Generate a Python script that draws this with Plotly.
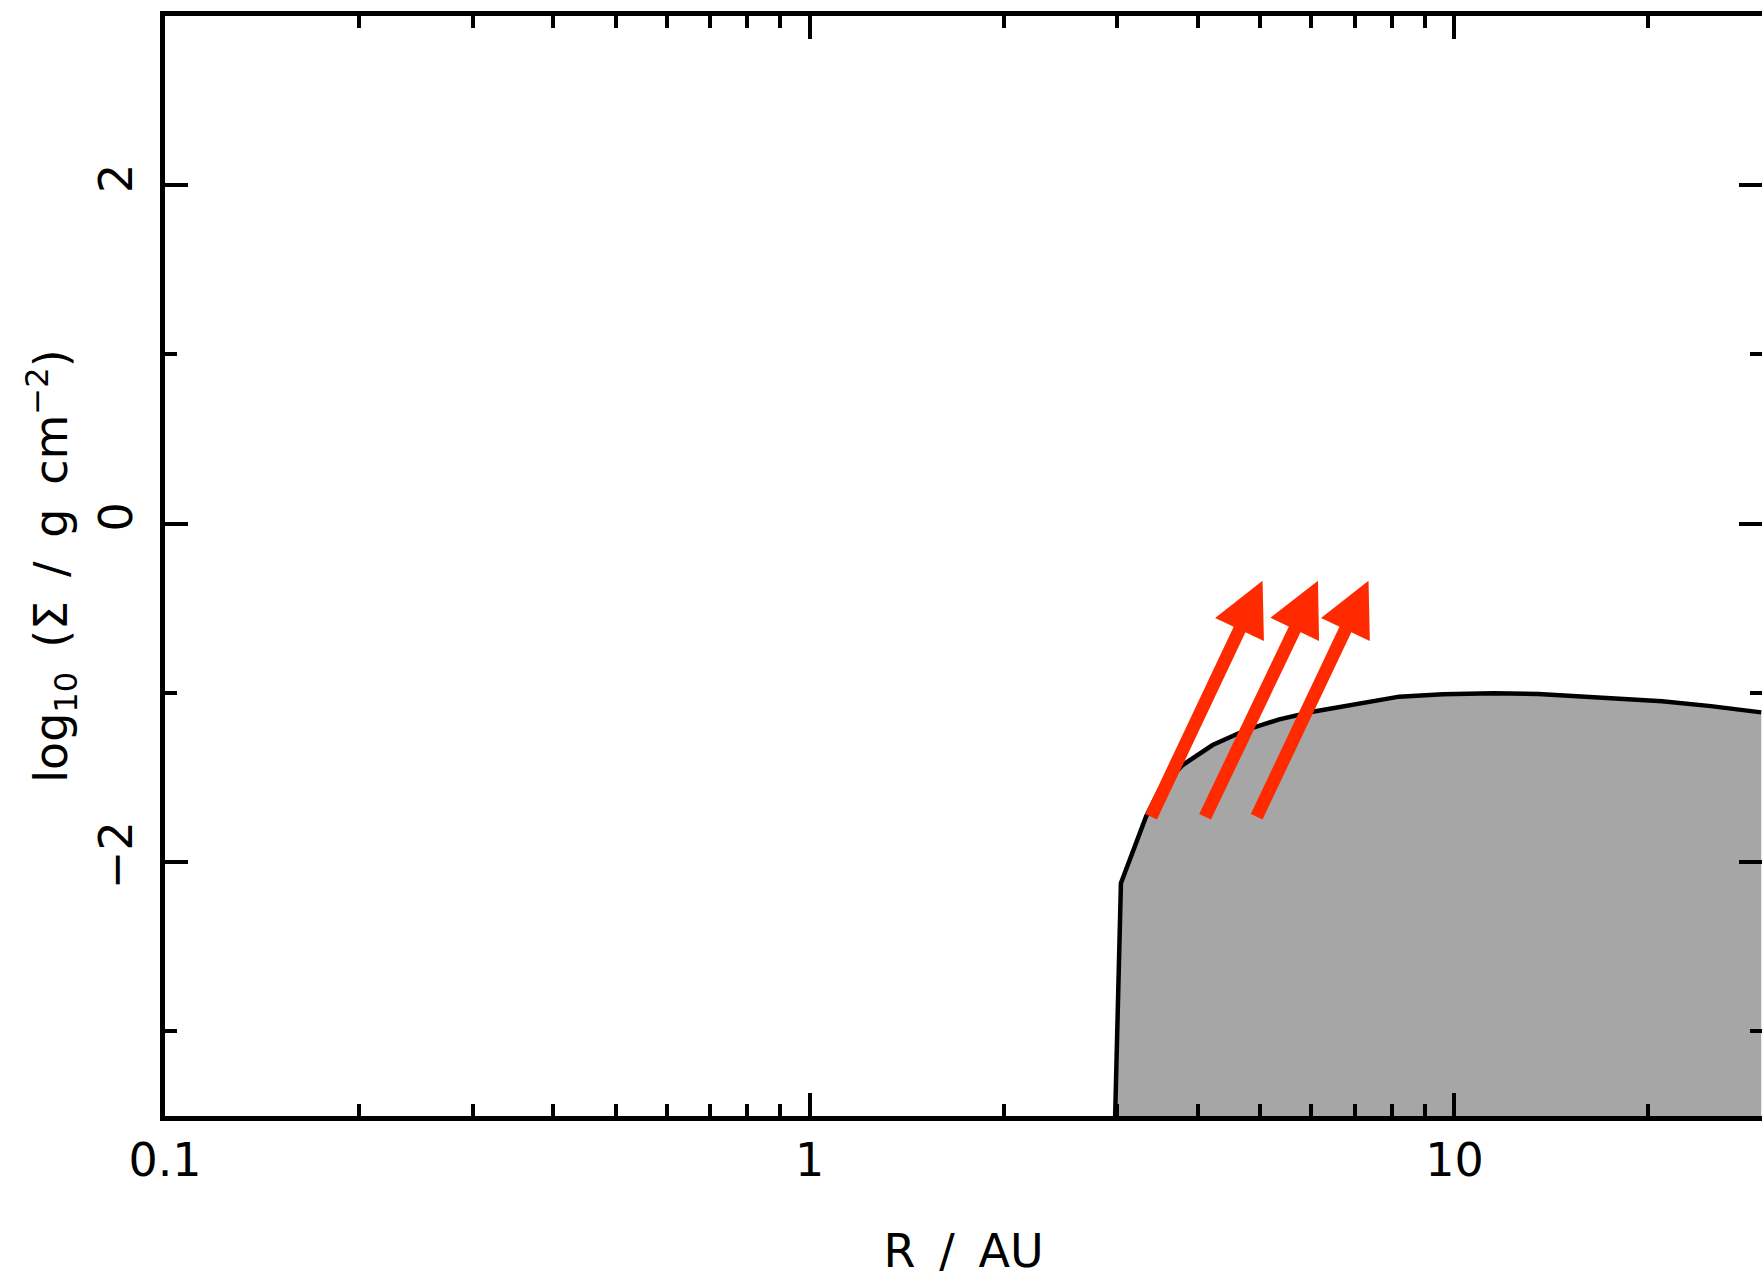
import numpy as np
import plotly.graph_objects as go

# Surface density profile
R_au = [2.977, 3.039, 3.324, 3.486, 3.789, 4.217, 4.751, 5.350, 6.026, 6.787,
        8.211, 9.6, 11.5, 13.5, 15.2, 18.0, 21.0, 25.0, 29.92]
log_sigma = [-3.5, -2.124, -1.731, -1.574, -1.426, -1.308, -1.219, -1.156, -1.111,
             -1.076, -1.022, -1.008, -1.002, -1.006, -1.016, -1.031, -1.049, -1.078, -1.115]
floor_value = -3.5

# Red arrows (tail -> tip), in data units
arrow_tail_R = [3.376, 4.094, 4.922]
arrow_tip_R = [5.040, 6.143, 7.359]
arrow_tail_logsigma = [-1.741, -1.741, -1.741]
arrow_tip_logsigma = [-0.337, -0.337, -0.337]

# Ticks
x_major = [0.1, 1, 10]
x_major_text = ["0.1", "1", "10"]
x_minor = [0.2, 0.3, 0.4, 0.5, 0.6, 0.7, 0.8, 0.9, 2, 3, 4, 5, 6, 7, 8, 9, 20, 30]
y_major = [-2, 0, 2]
y_major_text = ["\u22122", "0", "2"]
y_minor = [-3, -1, 1, 3]

FONT = "DejaVu Sans"
FS = 46
GAP = " \u2009"

fig = go.Figure()
fig.add_trace(go.Scatter(x=R_au, y=[floor_value] * len(R_au), mode="lines",
                         line=dict(width=0, color="rgba(0,0,0,0)"),
                         showlegend=False, hoverinfo="skip"))
fig.add_trace(go.Scatter(x=R_au, y=log_sigma, mode="lines", fill="tonexty",
                         fillcolor="#a6a6a6",
                         line=dict(color="black", width=4.5),
                         showlegend=False))

for xt, xh, yt, yh in zip(arrow_tail_R, arrow_tip_R, arrow_tail_logsigma, arrow_tip_logsigma):
    fig.add_annotation(x=np.log10(xh), y=yh, ax=np.log10(xt), ay=yt,
                       xref="x", yref="y", axref="x", ayref="y",
                       text="", showarrow=True, arrowhead=2, arrowsize=0.83,
                       arrowwidth=13, arrowcolor="#ff2a00")

axis_common = dict(showline=True, linecolor="black", linewidth=4.5, mirror="ticks",
                   ticks="inside", tickcolor="black", tickwidth=4, ticklen=23,
                   showgrid=False, zeroline=False,
                   tickfont=dict(family=FONT, size=FS, color="black"))

fig.update_xaxes(type="log", range=[-1, np.log10(30)],
                 tickvals=x_major, ticktext=x_major_text,
                 minor=dict(tickvals=x_minor, ticks="inside", ticklen=12,
                            tickwidth=4, tickcolor="black", showgrid=False),
                 title=dict(text="R" + GAP + "/" + GAP + "AU",
                            font=dict(family=FONT, size=FS, color="black"),
                            standoff=50),
                 ticklabelstandoff=0,
                 **axis_common)
fig.update_yaxes(range=[-3.5, 3],
                 tickvals=y_major, ticktext=y_major_text, tickangle=-90,
                 minor=dict(tickvals=y_minor, ticks="inside", ticklen=12,
                            tickwidth=4, tickcolor="black", showgrid=False),
                 title=dict(text="log<sub>10</sub>" + GAP + "(\u03a3" + GAP + "/" + GAP + "g" + GAP
                            + "cm<sup>\u22122</sup>)",
                            font=dict(family=FONT, size=FS, color="black"),
                            standoff=8),
                 ticklabelstandoff=10,
                 **axis_common)

fig.update_layout(width=1762, height=1280,
                  margin=dict(l=165, r=0, t=16, b=164, autoexpand=False),
                  plot_bgcolor="white", paper_bgcolor="white",
                  showlegend=False)

fig.write_html("out.html")
